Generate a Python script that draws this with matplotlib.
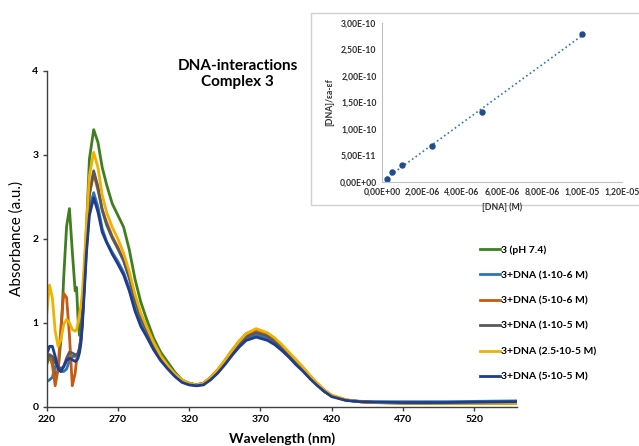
import numpy as np
import matplotlib
matplotlib.use("Agg")
import matplotlib.pyplot as plt
from matplotlib.patches import Rectangle
from matplotlib.ticker import FuncFormatter, MultipleLocator

plt.rcParams['font.family'] = ['Lato', 'DejaVu Sans']

# wavelengths (nm) shared by all spectra
wl = [220, 222, 224, 226, 228, 230, 232, 234, 236, 238, 240, 241, 242, 243, 244, 245, 246, 247, 248, 250,
      253, 256, 259, 262, 266, 270, 274, 278, 282, 286, 290, 295, 300, 305, 310, 315, 320, 325, 330,
      335, 340, 345, 350, 355, 360, 367, 375, 380, 385, 390, 395, 400, 405, 410, 415, 420, 430, 440,
      450, 470, 500, 550]

abs_free = [0.50, 0.60, 0.52, 0.38, 0.42, 0.80, 1.55, 2.15, 2.36, 1.85, 1.38, 1.42, 1.05, 0.85, 0.90, 1.15, 1.45, 1.80, 2.15, 2.95,
            3.30, 3.15, 2.85, 2.65, 2.42, 2.28, 2.14, 1.87, 1.52, 1.25, 1.05, 0.82, 0.65, 0.53, 0.41, 0.32, 0.28, 0.26, 0.28,
            0.35, 0.44, 0.55, 0.67, 0.78, 0.87, 0.92, 0.87, 0.81, 0.73, 0.64, 0.55, 0.46, 0.36, 0.27, 0.19, 0.13, 0.08, 0.06,
            0.05, 0.045, 0.04, 0.04]
abs_1e6 = [0.30, 0.32, 0.35, 0.48, 0.50, 0.42, 0.42, 0.45, 0.55, 0.60, 0.60, 0.60, 0.62, 0.68, 0.80, 1.00, 1.30, 1.60, 1.90, 2.35,
           2.55, 2.38, 2.12, 1.97, 1.84, 1.73, 1.60, 1.41, 1.17, 0.99, 0.86, 0.70, 0.56, 0.46, 0.37, 0.30, 0.27, 0.25, 0.27,
           0.33, 0.41, 0.51, 0.62, 0.72, 0.80, 0.85, 0.81, 0.75, 0.68, 0.60, 0.51, 0.43, 0.34, 0.26, 0.18, 0.13, 0.08, 0.065,
           0.06, 0.06, 0.06, 0.07]
abs_5e6 = [0.58, 0.62, 0.50, 0.25, 0.45, 0.95, 1.35, 1.30, 0.85, 0.25, 0.40, 0.56, 0.62, 0.68, 0.80, 1.05, 1.35, 1.70, 2.00, 2.52,
           2.78, 2.58, 2.35, 2.20, 2.03, 1.90, 1.74, 1.55, 1.30, 1.08, 0.93, 0.75, 0.59, 0.48, 0.38, 0.31, 0.28, 0.26, 0.28,
           0.34, 0.43, 0.54, 0.65, 0.76, 0.85, 0.91, 0.86, 0.80, 0.72, 0.63, 0.54, 0.45, 0.36, 0.27, 0.19, 0.13, 0.08, 0.06,
           0.05, 0.045, 0.04, 0.05]
abs_1e5 = [0.55, 0.62, 0.60, 0.52, 0.48, 0.45, 0.48, 0.58, 0.65, 0.64, 0.62, 0.62, 0.64, 0.70, 0.82, 1.05, 1.35, 1.70, 2.00, 2.55,
           2.81, 2.62, 2.34, 2.17, 2.01, 1.88, 1.74, 1.53, 1.27, 1.06, 0.92, 0.74, 0.58, 0.47, 0.38, 0.31, 0.28, 0.26, 0.28,
           0.34, 0.42, 0.53, 0.64, 0.75, 0.83, 0.88, 0.84, 0.78, 0.70, 0.62, 0.53, 0.44, 0.35, 0.26, 0.18, 0.13, 0.08, 0.06,
           0.05, 0.045, 0.04, 0.05]
abs_25e5 = [1.10, 1.45, 1.30, 0.90, 0.72, 0.80, 0.98, 1.04, 1.00, 0.92, 0.90, 0.92, 1.00, 1.10, 1.20, 1.35, 1.60, 1.90, 2.20, 2.75,
            3.03, 2.85, 2.52, 2.32, 2.14, 2.00, 1.83, 1.61, 1.34, 1.12, 0.96, 0.77, 0.61, 0.49, 0.39, 0.32, 0.28, 0.26, 0.28,
            0.35, 0.44, 0.55, 0.67, 0.78, 0.87, 0.93, 0.88, 0.82, 0.74, 0.65, 0.56, 0.47, 0.37, 0.28, 0.20, 0.14, 0.085, 0.06,
            0.05, 0.045, 0.04, 0.04]
abs_5e5 = [0.62, 0.72, 0.72, 0.60, 0.45, 0.42, 0.48, 0.55, 0.58, 0.56, 0.54, 0.55, 0.58, 0.64, 0.75, 0.95, 1.25, 1.55, 1.85, 2.28,
           2.49, 2.32, 2.08, 1.96, 1.82, 1.70, 1.57, 1.38, 1.14, 0.96, 0.84, 0.68, 0.55, 0.45, 0.36, 0.29, 0.26, 0.25, 0.26,
           0.32, 0.40, 0.50, 0.61, 0.71, 0.79, 0.83, 0.79, 0.74, 0.67, 0.59, 0.50, 0.42, 0.33, 0.25, 0.18, 0.12, 0.075, 0.06,
           0.055, 0.05, 0.05, 0.06]

labels = ['3 (pH 7.4)', '3+DNA (1·10-6 M)', '3+DNA (5·10-6 M)', '3+DNA (1·10-5 M)',
          '3+DNA (2.5·10-5 M)', '3+DNA (5·10-5 M)']
colors = ['#3f7f1f', '#2e75b6', '#c55a11', '#595959', '#f2b000', '#1f3d8c']
spectra = [abs_free, abs_1e6, abs_5e6, abs_1e5, abs_25e5, abs_5e5]

# inset: [DNA]/(ea-ef) vs [DNA]
dna = [0.25e-6, 0.5e-6, 1e-6, 2.5e-6, 5e-6, 1e-5]
ratio = [0.57e-11, 1.8e-11, 3.3e-11, 6.8e-11, 13.3e-11, 27.9e-11]

fig = plt.figure(figsize=(6.39, 4.46), dpi=100)
ax = fig.add_axes([0.073, 0.088, 0.736, 0.753])

for y, c, lab in zip(spectra, colors, labels):
    ax.plot(wl, y, color=c, lw=2.0, label=lab)

ax.set_xlim(220, 550)
ax.set_ylim(0, 4)
ax.set_xticks(range(220, 550, 50))
ax.set_yticks([0, 1, 2, 3, 4])
for s in ['top', 'right']:
    ax.spines[s].set_visible(False)
for s in ['left', 'bottom']:
    ax.spines[s].set_color('#404040')
    ax.spines[s].set_linewidth(1.0)
ax.tick_params(length=3, width=1, color='#404040', labelsize=7.5, pad=3)
for t in ax.get_xticklabels() + ax.get_yticklabels():
    t.set_fontweight('bold')
ax.set_xlabel('Wavelength (nm)', fontsize=10, fontweight='bold', labelpad=6)
ax.set_ylabel('Absorbance (a.u.)', fontsize=11, labelpad=6)

fig.text(0.372, 0.834, 'DNA-interactions\nComplex 3', ha='center', va='center',
         fontsize=11, fontweight='bold', linespacing=1.2)

ax.legend(loc='upper left', bbox_to_anchor=(480 / 639, 1 - 245 / 446),
          bbox_transform=fig.transFigure, frameon=False,
          prop={'weight': 'bold', 'size': 7.5}, handlelength=1.9, handletextpad=0.1,
          labelspacing=1.55, borderpad=0, borderaxespad=0)

# inset frame
fig.patches.append(Rectangle((311 / 639, 1 - 205 / 446), 1.002 - 311 / 639, 192 / 446,
                             transform=fig.transFigure, facecolor='white',
                             edgecolor='#d0d0d0', lw=1.0, zorder=3))

ins = fig.add_axes([382 / 639, 1 - 182 / 446, 240 / 639, 159 / 446], zorder=4)
ins.patch.set_alpha(0)
fit = np.polyfit(dna, ratio, 1)
xs = np.array([min(dna), max(dna)])
ins.plot(xs, np.polyval(fit, xs), ls=':', color='#2e75b6', lw=1.2)
ins.plot(dna, ratio, 'o', color='#1f4e8c', ms=3.6)
ins.set_xlim(0, 1.2e-5)
ins.set_ylim(0, 3e-10)
ins.xaxis.set_major_locator(MultipleLocator(2e-6))
ins.yaxis.set_major_locator(MultipleLocator(5e-11))
fmt = FuncFormatter(lambda v, p: f"{v:.2E}".replace('.', ','))
ins.xaxis.set_major_formatter(fmt)
ins.yaxis.set_major_formatter(fmt)
ins.xaxis.get_offset_text().set_visible(False)
ins.yaxis.get_offset_text().set_visible(False)
for s in ['top', 'right']:
    ins.spines[s].set_visible(False)
for s in ['left', 'bottom']:
    ins.spines[s].set_color('#bfbfbf')
ins.tick_params(length=0, labelsize=6.2, labelcolor='#303030', pad=4)
for t in ins.get_xticklabels() + ins.get_yticklabels():
    t.set_fontweight('bold')
ins.set_xlabel('[DNA] (M)', fontsize=6.2, fontweight='bold', color='#303030', labelpad=4)
ins.set_ylabel('[DNA]/εa-εf', fontsize=6.2, fontweight='bold', color='#303030', labelpad=4)

fig.savefig('out.png', dpi=100)
